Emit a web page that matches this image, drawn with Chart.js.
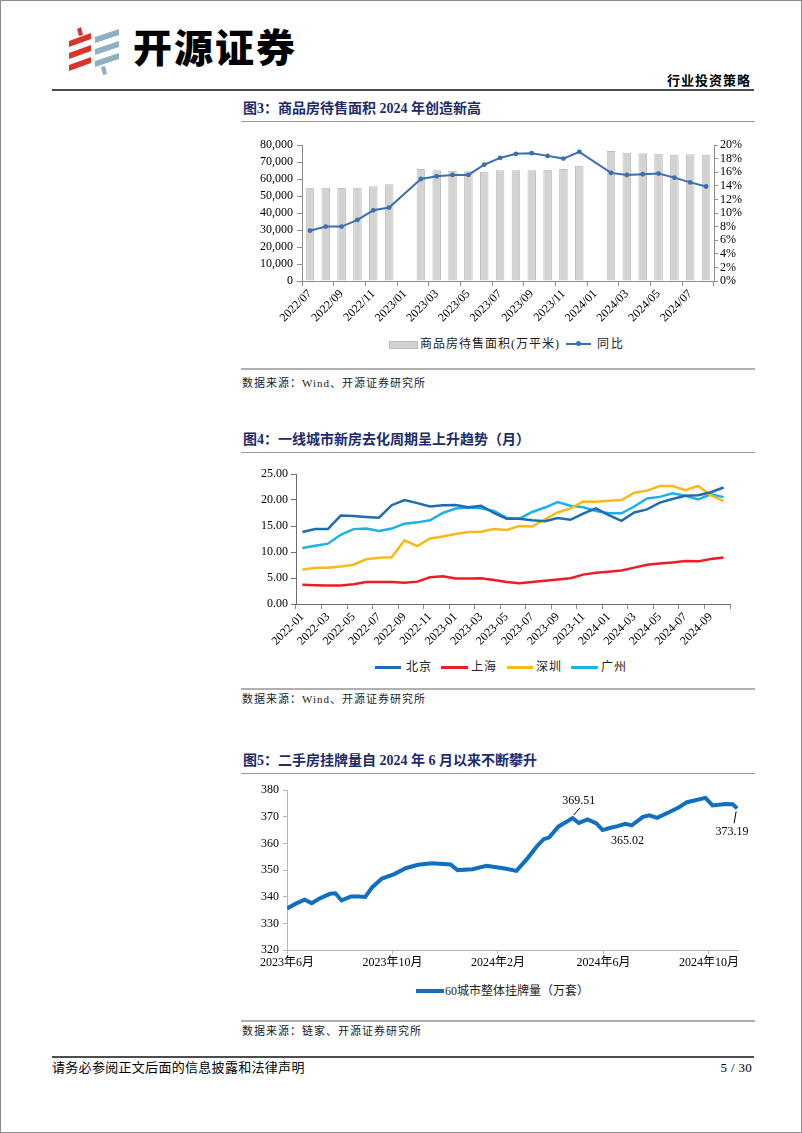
<!DOCTYPE html>
<html lang="zh-CN">
<head>
<meta charset="utf-8">
<title>开源证券 行业投资策略</title>
<script src="https://cdn.jsdelivr.net/npm/chart.js@4.4.1/dist/chart.umd.min.js"></script>
<style>
  body { margin: 0; background: #fff; }
  #page {
    position: relative; width: 802px; height: 1133px; box-sizing: border-box;
    border: 1px solid #8c8c8c; overflow: hidden; color: #000;
    font-family: 'Liberation Serif', 'Noto Sans CJK SC', serif;
  }
  .abs { position: absolute; white-space: nowrap; }
  .brand { left: 132px; top: 20px; font-family: 'Noto Sans CJK SC', sans-serif; font-weight: 900; font-size: 39px; letter-spacing: 2px; line-height: 48px; }
  .doctype { right: 50px; top: 72px; font-size: 13px; font-weight: bold; letter-spacing: 1px; line-height: 16px; }
  .rule { left: 51px; width: 702px; height: 2px; background: #4d4d4d; }
  .title { left: 242px; font-size: 14px; font-weight: bold; color: #1b2b6b; line-height: 16px; }
  .uline { left: 240px; width: 514px; height: 1px; background: #9a9a9a; }
  .sep { left: 240px; width: 514px; height: 2px; background: #b0b0b0; }
  .src { left: 241px; font-size: 11px; letter-spacing: 1px; color: #222; line-height: 14px; }
  .box { position: absolute; }
  .leg { font-size: 12px; line-height: 14px; color: #222; }
  .sw { position: absolute; }
  .foot { font-size: 13px; line-height: 16px; letter-spacing: 0.3px; }
</style>
</head>
<body>
<div id="page">
  <!-- header -->
  <svg class="abs" style="left:66px;top:26px" width="58" height="48" viewBox="0 0 58 48">
    <g fill="#d8342b">
      <polygon points="2,14 24,6 24,12 2,20"/>
      <polygon points="2,26 24,18 24,24 2,32"/>
      <polygon points="2,38 24,30 24,36 2,44"/>
      <polygon points="10,2 14,0 16,8 12,9"/>
    </g>
    <g fill="#8fb0c4">
      <polygon points="28,10 52,2 52,8 28,16"/>
      <polygon points="28,22 52,14 52,20 28,28"/>
      <polygon points="28,34 52,26 52,32 28,40"/>
      <polygon points="34,40 38,39 40,47 36,48"/>
    </g>
  </svg>
  <div class="abs brand">开源证券</div>
  <div class="abs doctype">行业投资策略</div>
  <div class="abs rule" style="top:88px"></div>

  <!-- figure 3 -->
  <div class="abs title" style="top:100px">图3：商品房待售面积 2024 年创造新高</div>
  <div class="abs uline" style="top:120px"></div>
  <div class="box" style="left:233px;top:130px;width:527px;height:195px"><canvas id="c1"></canvas></div>
  <div class="abs leg" style="left:0;top:0;width:0;height:0">
    <div class="sw" style="left:388px;top:340px;width:27px;height:6px;background:#d3d3d3;border:1px solid #bcbcbc"></div>
    <div class="abs" style="left:419px;top:336px;letter-spacing:1px">商品房待售面积(万平米)</div>
    <div class="sw" style="left:565px;top:342px;width:25px;height:2px;background:#3a6fb0"></div>
    <div class="sw" style="left:575px;top:340px;width:5px;height:5px;border-radius:3px;background:#3a6fb0"></div>
    <div class="abs" style="left:596px;top:336px;letter-spacing:2px">同比</div>
  </div>
  <div class="abs sep" style="top:367px"></div>
  <div class="abs src" style="top:375px">数据来源：Wind、开源证券研究所</div>

  <!-- figure 4 -->
  <div class="abs title" style="top:431px">图4：一线城市新房去化周期呈上升趋势（月）</div>
  <div class="abs uline" style="top:451px"></div>
  <div class="box" style="left:233px;top:462px;width:520px;height:185px"><canvas id="c2"></canvas></div>
  <div class="abs leg" style="left:0;top:0;width:0;height:0">
    <div class="sw" style="left:374px;top:665px;width:26px;height:2.5px;background:#1f6cb4"></div>
    <div class="abs" style="left:405px;top:659px;letter-spacing:1px">北京</div>
    <div class="sw" style="left:440px;top:665px;width:27px;height:2.5px;background:#ee1c25"></div>
    <div class="abs" style="left:470px;top:659px;letter-spacing:1px">上海</div>
    <div class="sw" style="left:506px;top:665px;width:26px;height:2.5px;background:#fbb917"></div>
    <div class="abs" style="left:535px;top:659px;letter-spacing:1px">深圳</div>
    <div class="sw" style="left:570px;top:665px;width:27px;height:2.5px;background:#1cb1ea"></div>
    <div class="abs" style="left:600px;top:659px;letter-spacing:1px">广州</div>
  </div>
  <div class="abs sep" style="top:687px"></div>
  <div class="abs src" style="top:691px">数据来源：Wind、开源证券研究所</div>

  <!-- figure 5 -->
  <div class="abs title" style="top:752px">图5：二手房挂牌量自 2024 年 6 月以来不断攀升</div>
  <div class="abs uline" style="top:772px"></div>
  <div class="box" style="left:233px;top:778px;width:520px;height:200px"><canvas id="c3"></canvas></div>
  <div class="abs leg" style="left:0;top:0;width:0;height:0">
    <div class="sw" style="left:415px;top:988px;width:28px;height:4px;background:#0f6fc0"></div>
    <div class="abs" style="left:444px;top:983px">60城市整体挂牌量（万套）</div>
  </div>
  <div class="abs sep" style="top:1019px"></div>
  <div class="abs src" style="top:1023px">数据来源：链家、开源证券研究所</div>

  <!-- footer -->
  <div class="abs rule" style="top:1055px"></div>
  <div class="abs foot" style="left:51px;top:1059px">请务必参阅正文后面的信息披露和法律声明</div>
  <div class="abs foot" style="right:49px;top:1059px">5 / 30</div>
</div>

<script>
// ---- 图3 data ----
const months1 = ['2022/07','2022/08','2022/09','2022/10','2022/11','2022/12',
  '2023/01','2023/02','2023/03','2023/04','2023/05','2023/06','2023/07','2023/08','2023/09','2023/10','2023/11','2023/12',
  '2024/01','2024/02','2024/03','2024/04','2024/05','2024/06','2024/07','2024/08'];
const unsoldArea = [54900, 54900, 54700, 54900, 55700, 56900,
  null, 65900, 65100, 64700, 64500, 64300, 65100, 65100, 65100, 65500, 65900, 67800,
  null, 76500, 75500, 75100, 74900, 74300, 74500, 74300];
const unsoldYoy = [7.4, 8.0, 8.0, 9.0, 10.4, 10.8,
  null, 15.0, 15.4, 15.6, 15.6, 17.1, 18.1, 18.7, 18.8, 18.4, 18.0, 19.0,
  null, 15.9, 15.6, 15.7, 15.8, 15.2, 14.5, 13.9];

// ---- 图4 data ----
const months2 = ['2022-01','2022-02','2022-03','2022-04','2022-05','2022-06','2022-07','2022-08','2022-09','2022-10','2022-11','2022-12',
  '2023-01','2023-02','2023-03','2023-04','2023-05','2023-06','2023-07','2023-08','2023-09','2023-10','2023-11','2023-12',
  '2024-01','2024-02','2024-03','2024-04','2024-05','2024-06','2024-07','2024-08','2024-09','2024-10'];
const beijing = [13.85, 14.4, 14.4, 17.0, 16.9, 16.75, 16.6, 19.0, 20.0, 19.4, 18.75, 19.0,
  19.05, 18.6, 18.9, 17.5, 16.4, 16.4, 16.1, 15.9, 16.55, 16.2, 17.4, 18.4,
  17.1, 16.0, 17.6, 18.2, 19.5, 20.2, 20.8, 20.9, 21.5, 22.4];
const shanghai = [3.7, 3.6, 3.55, 3.55, 3.8, 4.25, 4.25, 4.25, 4.1, 4.3, 5.15, 5.35,
  4.9, 4.9, 4.95, 4.6, 4.25, 4.0, 4.25, 4.45, 4.7, 4.95, 5.65, 6.0,
  6.2, 6.45, 7.0, 7.55, 7.8, 8.0, 8.25, 8.2, 8.65, 8.95];
const shenzhen = [6.6, 6.95, 6.95, 7.2, 7.55, 8.6, 8.9, 9.0, 12.25, 11.15, 12.6, 13.0,
  13.45, 13.85, 13.9, 14.4, 14.25, 15.0, 14.9, 16.3, 17.6, 18.4, 19.7, 19.65,
  19.85, 20.0, 21.4, 21.8, 22.7, 22.7, 21.9, 22.7, 20.9, 19.8];
const guangzhou = [10.75, 11.2, 11.6, 13.3, 14.4, 14.5, 14.05, 14.5, 15.45, 15.7, 16.1, 17.5,
  18.35, 18.55, 18.4, 17.9, 16.55, 16.4, 17.7, 18.55, 19.6, 18.9, 18.6, 17.9,
  17.45, 17.45, 18.75, 20.3, 20.6, 21.3, 20.8, 20.1, 21.1, 20.55];

// ---- 图5 data ----
const dates3 = ['2023-06-01','2023-06-11','2023-06-21','2023-06-29','2023-07-09','2023-07-20','2023-07-26',
  '2023-08-03','2023-08-14','2023-08-22','2023-08-30','2023-09-08','2023-09-19','2023-10-03','2023-10-16',
  '2023-10-30','2023-11-16','2023-12-07','2023-12-15','2024-01-02','2024-01-18','2024-01-31','2024-02-09',
  '2024-02-22','2024-03-05','2024-03-16','2024-03-23','2024-03-29','2024-04-10','2024-04-26','2024-05-03',
  '2024-05-13','2024-05-23','2024-05-30','2024-06-08','2024-06-17','2024-06-26','2024-07-03','2024-07-16',
  '2024-07-23','2024-08-02','2024-08-16','2024-08-27','2024-09-06','2024-09-27','2024-10-05','2024-10-20',
  '2024-10-28','2024-11-03'];
const listings = [335.6, 337.4, 338.9, 337.6, 339.5, 341.1, 341.3,
  338.6, 340.1, 340.1, 339.9, 343.6, 346.8, 348.5, 350.7,
  352.0, 352.6, 352.1, 350.0, 350.3, 351.6, 351.0, 350.6,
  349.7, 354.6, 359.2, 361.6, 362.2, 366.4, 369.51, 367.7,
  369.0, 367.5, 365.02, 365.8, 366.5, 367.4, 366.8, 370.0,
  370.6, 369.6, 371.8, 373.6, 375.5, 377.1, 374.3, 374.8,
  374.7, 373.19];
const labelled3 = [369.51, 365.02, 373.19];

Chart.defaults.font.family = "'Liberation Serif', 'Noto Sans CJK SC', serif";
Chart.defaults.font.size = 12;
Chart.defaults.color = '#000';
Chart.defaults.animation = false;
Chart.defaults.plugins.legend.display = false;
Chart.defaults.plugins.tooltip.enabled = false;

// show a tick mark every 2 categories (plus the closing one at the right edge)
const everyOther = (c) => (c.index === undefined || c.index % 2 === 0) ? '#8c8c8c' : 'rgba(0,0,0,0)';

// ---- 图3 ----
new Chart(document.getElementById('c1'), {
  data: {
    labels: months1,
    datasets: [
      {
        type: 'line', label: '同比', data: unsoldYoy, yAxisID: 'y1',
        borderColor: '#3a6fb0', backgroundColor: '#3a6fb0', borderWidth: 2,
        pointRadius: 2.4, pointBorderWidth: 0, spanGaps: true, order: 0
      },
      {
        type: 'bar', label: '商品房待售面积(万平米)', data: unsoldArea, yAxisID: 'y',
        backgroundColor: '#d3d3d3', borderColor: '#bdbdbd', borderWidth: 1,
        barPercentage: 0.54, categoryPercentage: 1, order: 1
      }
    ]
  },
  options: {
    responsive: true,
    maintainAspectRatio: false,
    layout: { padding: { top: 14, left: 0, right: 0, bottom: 0 } },
    scales: {
      x: {
        offset: true,
        grid: { offset: true, drawOnChartArea: false, tickLength: 5, color: everyOther },
        border: { color: '#8c8c8c' },
        ticks: {
          autoSkip: false, minRotation: 45, maxRotation: 45, padding: 1,
          callback: (v, i) => i % 2 === 0 ? months1[i] : ''
        },
        afterFit: (s) => { s.height = 45; }
      },
      y: {
        position: 'left', min: 0, max: 80000,
        grid: { drawOnChartArea: false, tickLength: 5, color: '#8c8c8c' },
        border: { color: '#8c8c8c' },
        ticks: { stepSize: 10000, autoSkip: false, padding: 4, callback: (v) => v.toLocaleString('en-US') },
        afterFit: (s) => { s.width = 68; }
      },
      y1: {
        position: 'right', min: 0, max: 20,
        grid: { drawOnChartArea: false, tickLength: 4, color: '#8c8c8c' },
        border: { color: '#8c8c8c' },
        ticks: { stepSize: 2, autoSkip: false, padding: 2, callback: (v) => v + '%' },
        afterFit: (s) => { s.width = 47; }
      }
    }
  }
});

// ---- 图4 ----
const cityLine = (label, data, color) => ({
  label, data, borderColor: color, backgroundColor: color,
  borderWidth: 2.5, pointRadius: 0, tension: 0
});
new Chart(document.getElementById('c2'), {
  type: 'line',
  data: {
    labels: months2,
    datasets: [
      cityLine('北京', beijing, '#1f6cb4'),
      cityLine('上海', shanghai, '#ee1c25'),
      cityLine('深圳', shenzhen, '#fbb917'),
      cityLine('广州', guangzhou, '#1cb1ea')
    ]
  },
  options: {
    responsive: true,
    maintainAspectRatio: false,
    layout: { padding: { top: 11, left: 0, right: 24, bottom: 0 } },
    scales: {
      x: {
        offset: true,
        grid: { offset: true, drawOnChartArea: false, tickLength: 5, color: everyOther },
        border: { color: '#6e6e6e' },
        ticks: {
          autoSkip: false, minRotation: 45, maxRotation: 45, padding: 1,
          callback: (v, i) => i % 2 === 0 ? months2[i] : ''
        },
        afterFit: (s) => { s.height = 44; }
      },
      y: {
        min: 0, max: 25,
        grid: { drawOnChartArea: false, tickLength: 5, color: '#6e6e6e' },
        border: { color: '#6e6e6e' },
        ticks: { stepSize: 5, autoSkip: false, padding: 3, callback: (v) => v.toFixed(2) },
        afterFit: (s) => { s.width = 62; }
      }
    }
  }
});

// ---- 图5 ----
const monthOffset = (d) => {
  const [yy, mm, dd] = d.split('-').map(Number);
  return (yy - 2023) * 12 + (mm - 6) + (dd - 1) / 30;
};
const tickName = (v) => {
  const n = 5 + v;
  return (2023 + Math.floor(n / 12)) + '年' + (n % 12 + 1) + '月';
};

const notePlugin = {
  id: 'notes',
  afterDatasetsDraw(chart) {
    const { ctx } = chart;
    const meta = chart.getDatasetMeta(0);
    const style = {
      '369.51': { dx: 6, dy: -17, lead: [[1, -3], [7, -10]] },
      '365.02': { dx: 25, dy: 11, lead: null },
      '373.19': { dx: -5, dy: 24, lead: [[-1, 3], [-3, 15]] }
    };
    ctx.save();
    ctx.font = "12px 'Liberation Serif'";
    ctx.fillStyle = '#000';
    ctx.strokeStyle = '#000';
    ctx.lineWidth = 1;
    ctx.textAlign = 'center';
    ctx.textBaseline = 'middle';
    labelled3.forEach((val) => {
      const i = listings.indexOf(val);
      const pt = meta.data[i];
      const s = style[val.toFixed(2)];
      if (s.lead) {
        ctx.beginPath();
        ctx.moveTo(pt.x + s.lead[0][0], pt.y + s.lead[0][1]);
        ctx.lineTo(pt.x + s.lead[1][0], pt.y + s.lead[1][1]);
        ctx.stroke();
      }
      ctx.fillText(val.toFixed(2), pt.x + s.dx, pt.y + s.dy);
    });
    ctx.restore();
  }
};

new Chart(document.getElementById('c3'), {
  type: 'line',
  data: {
    datasets: [{
      label: '60城市整体挂牌量（万套）',
      data: dates3.map((d, i) => ({ x: monthOffset(d), y: listings[i] })),
      borderColor: '#0f6fc0', backgroundColor: '#0f6fc0',
      borderWidth: 4, pointRadius: 0, tension: 0
    }]
  },
  options: {
    responsive: true,
    maintainAspectRatio: false,
    layout: { padding: { top: 8, left: 0, right: 16, bottom: 0 } },
    scales: {
      x: {
        type: 'linear', min: 0, max: 17.1,
        afterBuildTicks: (s) => { s.ticks = [0, 4, 8, 12, 16].map((v) => ({ value: v })); },
        grid: { drawOnChartArea: false, tickLength: 4, color: '#b4b4b4' },
        border: { color: '#b4b4b4' },
        ticks: { padding: 2, maxRotation: 0, callback: (v) => tickName(v) },
        afterFit: (s) => { s.height = 29; }
      },
      y: {
        min: 320, max: 380,
        grid: { drawOnChartArea: false, tickLength: 4, color: '#b4b4b4' },
        border: { color: '#b4b4b4' },
        ticks: { stepSize: 10, autoSkip: false, padding: 4 },
        afterFit: (s) => { s.width = 53; }
      }
    }
  },
  plugins: [notePlugin]
});
</script>
</body>
</html>
